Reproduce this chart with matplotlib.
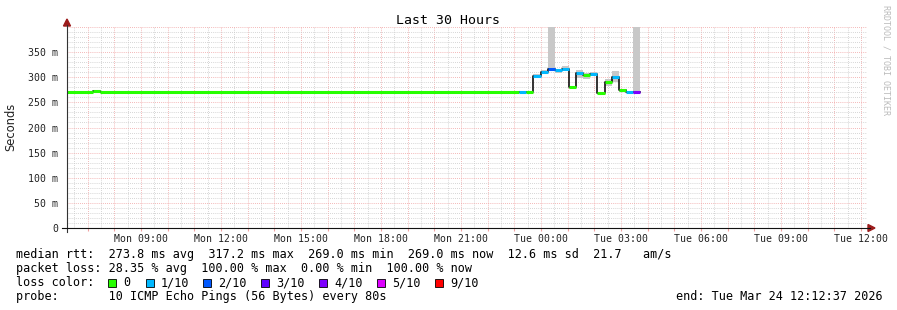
import matplotlib
matplotlib.use("Agg")
import matplotlib.pyplot as plt
import matplotlib.dates as mdates
from matplotlib.patches import Polygon, Rectangle
from matplotlib.lines import Line2D
from matplotlib.ticker import MultipleLocator, FuncFormatter
import pandas as pd

# --- data (ms) ---
t_start = "2026-03-23 06:12:37"
t_end = "2026-03-24 12:12:37"

seg_start = ["2026-03-23 06:12:37", "2026-03-23 07:11", "2026-03-23 07:27",
             "2026-03-23 23:11", "2026-03-23 23:27", "2026-03-23 23:43",
             "2026-03-23 23:59", "2026-03-24 00:15", "2026-03-24 00:31",
             "2026-03-24 00:47", "2026-03-24 01:03", "2026-03-24 01:19",
             "2026-03-24 01:35", "2026-03-24 01:51", "2026-03-24 02:07",
             "2026-03-24 02:23", "2026-03-24 02:39", "2026-03-24 02:55",
             "2026-03-24 03:11", "2026-03-24 03:27"]
seg_end_last = "2026-03-24 03:43"
median = [270, 272.5, 270, 270, 270, 302, 311, 316, 314, 317.2,
          280, 307.5, 304, 307, 269, 290, 300, 274, 270, 270]
loss = [0, 0, 0, 1, 0, 1, 1, 2, 1, 1, 0, 1, 0, 1, 0, 0, 1, 0, 1, 4]
smoke_lo = [None, None, None, None, None, 298, 306, 312, 309, 313,
            276, 298, 296, 302, None, 283, 290, 271, None, 268]
smoke_hi = [None, None, None, None, None, 306, 314, 400, 317, 322,
            283, 314, 309, 310, None, 297, 312, 277, None, 400]

loss_labels = ["0", "1/10", "2/10", "3/10", "4/10", "5/10", "9/10"]
loss_colors = ["#26ff00", "#00b8ff", "#0059ff", "#5e00ff", "#7e00ff", "#dd00ff", "#ff0000"]

W, H = 897, 310
mono = "DejaVu Sans Mono"

def fx(x):
    return x / W

def fy(y):
    return 1 - y / H

fig = plt.figure(figsize=(W / 100, H / 100), dpi=100)
ax = fig.add_axes([fx(66.6), fy(228), 800 / W, 201 / H])

starts = pd.to_datetime(seg_start, format="mixed")
ends = list(starts[1:]) + [pd.to_datetime(seg_end_last)]

# smoke
for s, e, lo, hi in zip(starts, ends, smoke_lo, smoke_hi):
    if lo is None:
        continue
    ax.fill_between([s, e], lo / 1000, hi / 1000, color="#c8c8c8", lw=0, zorder=2)

# median line: black steps + coloured segments
xs, ys = [], []
for s, e, m in zip(starts, ends, median):
    xs += [s, e]
    ys += [m / 1000, m / 1000]
ax.plot(xs, ys, color="#111111", lw=1.2, zorder=3)
for s, e, m, l in zip(starts, ends, median, loss):
    ax.plot([s, e], [m / 1000, m / 1000], color=loss_colors[l], lw=2.2,
            solid_capstyle="butt", zorder=4)

ax.set_xlim(pd.Timestamp(t_start), pd.Timestamp(t_end))
ax.set_ylim(0, 0.4)

# grid
ax.xaxis.set_major_locator(mdates.HourLocator())
ax.xaxis.set_minor_locator(mdates.MinuteLocator(byminute=[30]))
ax.xaxis.set_major_formatter(FuncFormatter(
    lambda v, p: mdates.num2date(v).strftime("%a %H:%M") if mdates.num2date(v).hour % 3 == 0 else ""))
ax.yaxis.set_major_locator(MultipleLocator(0.05))
ax.yaxis.set_minor_locator(MultipleLocator(0.01))
ax.yaxis.set_major_formatter(FuncFormatter(
    lambda v, p: "0" if abs(v) < 1e-9 else ("%d m" % round(v * 1000) if v < 0.399 else "")))
ax.grid(which="minor", color="#c8c8c8", lw=0.6, ls=(0, (1, 1.5)), zorder=0)
ax.grid(which="major", color="#f0a0a0", lw=0.6, ls=(0, (1, 1.5)), zorder=1)

for sp in ax.spines.values():
    sp.set_visible(False)
ax.tick_params(which="both", length=0)
ax.tick_params(axis="x", which="major", length=2, color="#f0a0a0", pad=2)
ax.tick_params(axis="y", which="major", pad=6)
for lab in ax.get_xticklabels() + ax.get_yticklabels():
    lab.set_fontfamily(mono)
    lab.set_fontsize(7.1)
    lab.set_color("#222222")

# axes lines and arrows
fig.add_artist(Line2D([fx(67), fx(67)], [fy(232), fy(25)], color="#333333", lw=0.8))
fig.add_artist(Line2D([fx(62), fx(870)], [fy(228), fy(228)], color="#111111", lw=0.8))
fig.add_artist(Polygon([(fx(67), fy(19)), (fx(63.5), fy(26)), (fx(70.5), fy(26))],
                       closed=True, color="#9c1c1c", transform=fig.transFigure))
fig.add_artist(Polygon([(fx(875), fy(228)), (fx(868), fy(224.5)), (fx(868), fy(231.5))],
                       closed=True, color="#9c1c1c", transform=fig.transFigure))

# titles
fig.text(fx(447.5), fy(20), "Last 30 Hours", family=mono, fontsize=9.5,
         ha="center", va="center")
fig.text(fx(11), fy(127), "Seconds", fontsize=8.3, rotation=90,
         ha="center", va="center", color="#222222")
fig.text(fx(886), fy(5), "RRDTOOL / TOBI OETIKER", family=mono, fontsize=6,
         rotation=270, ha="center", va="top", color="#bbbbbb")

# legend lines
fs = 8.45
fig.text(fx(16.3), fy(258), "median rtt:  273.8 ms avg  317.2 ms max  269.0 ms min  "
         "269.0 ms now  12.6 ms sd  21.7   am/s", family=mono, fontsize=fs, va="baseline")
fig.text(fx(16.3), fy(272), "packet loss: 28.35 % avg  100.00 % max  0.00 % min  100.00 % now",
         family=mono, fontsize=fs, va="baseline")
fig.text(fx(16.3), fy(286), "loss color:", family=mono, fontsize=fs, va="baseline")
box_x = [108.3, 145.7, 203.3, 261, 319, 376.7, 435]
for bx, lab, col in zip(box_x, loss_labels, loss_colors):
    fig.add_artist(Rectangle((fx(bx), fy(287)), 8 / W, 8 / H, facecolor=col,
                             edgecolor="#000000", lw=0.6, transform=fig.transFigure))
    fig.text(fx(bx + 15), fy(286), lab, family=mono, fontsize=fs, va="baseline")
fig.text(fx(16.3), fy(300), "probe:       10 ICMP Echo Pings (56 Bytes) every 80s",
         family=mono, fontsize=fs, va="baseline")
fig.text(fx(883), fy(300), "end: Tue Mar 24 12:12:37 2026", family=mono, fontsize=fs,
         va="baseline", ha="right")

fig.savefig("out.png", dpi=100, facecolor="white")
